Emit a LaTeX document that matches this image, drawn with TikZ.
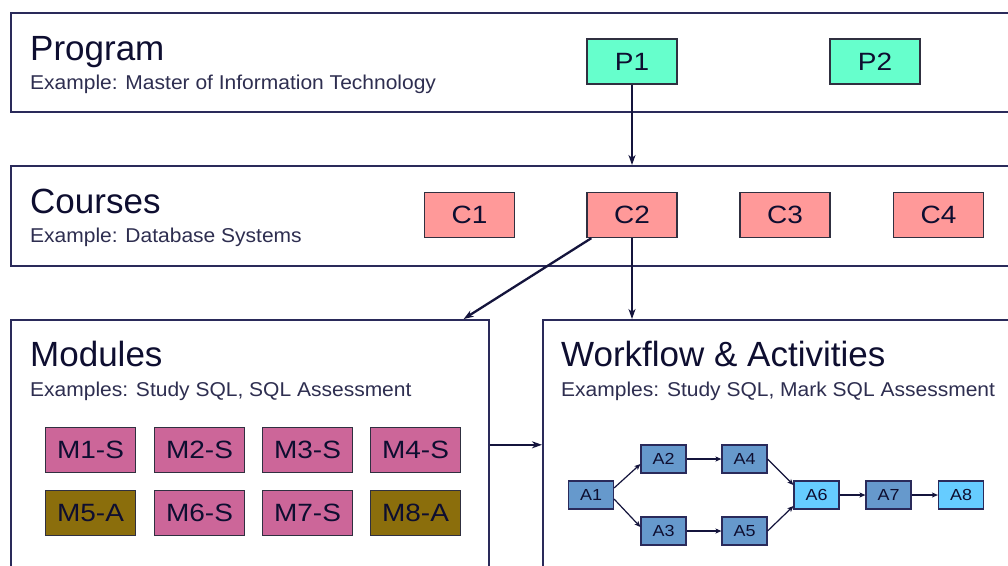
\documentclass[tikz,border=0pt]{standalone}
\usepackage{fontspec}
\setmainfont{Liberation Sans}
\newfontfamily\widesans[FakeStretch=1.05]{Liberation Sans}
\newfontfamily\labelsans[FakeStretch=1.12]{Liberation Sans}
\usetikzlibrary{arrows.meta,calc}

\definecolor{bandline}{HTML}{2A2A5A}
\definecolor{arrowcol}{HTML}{14143C}
\definecolor{txtdark}{HTML}{0E0E30}
\definecolor{txtsub}{HTML}{2E2E50}
\definecolor{pfill}{HTML}{66FFCC}
\definecolor{cfill}{HTML}{FF9999}
\definecolor{msfill}{HTML}{CC6699}
\definecolor{mafill}{HTML}{8B6E0C}
\definecolor{afill}{HTML}{6699CC}
\definecolor{alight}{HTML}{66CCFF}
\definecolor{boxline}{HTML}{303040}

\tikzset{
  band/.style={draw=bandline, line width=1.6pt, fill=white, anchor=north west, inner sep=0pt},
  bandtitle/.style={anchor=base west, inner sep=0pt, text=txtdark, font=\fontsize{35}{40}\selectfont},
  bandsub/.style={anchor=base west, inner sep=0pt, text=txtsub, font=\widesans\fontsize{20}{24}\selectfont},
  item/.style={draw=boxline, line width=1.3pt, minimum width=90pt, minimum height=45pt, inner sep=0pt,
    text=txtdark, font=\labelsans\fontsize{25}{28}\selectfont},
  pbox/.style={item, fill=pfill},
  cbox/.style={item, fill=cfill},
  msbox/.style={item, fill=msfill},
  mabox/.style={item, fill=mafill},
  abox/.style={draw=bandline, line width=1.1pt, minimum width=45pt, minimum height=28pt, inner sep=0pt,
    fill=afill, text=txtdark, font=\labelsans\fontsize{16}{18}\selectfont},
  alt/.style={fill=alight},
  bigarrow/.style={draw=arrowcol, line width=2.3pt, -{Stealth[length=10pt,width=7pt,inset=3pt]}},
  smallarrow/.style={draw=arrowcol, line width=1.2pt, -{Stealth[length=6pt,width=5pt,inset=1.5pt]}}
}

\begin{document}
\begin{tikzpicture}[x=1pt,y=-1pt]
\useasboundingbox (0,0) rectangle (1008,565);
\clip (0,0) rectangle (1008,565);
\fill[white] (0,0) rectangle (1008,565);

% the four bands
\node[band, minimum width=1010pt, minimum height=99pt] (prog) at (10,12) {};
\node[band, minimum width=1010pt, minimum height=100pt] (courses) at (10,165) {};
\node[band, minimum width=478pt, minimum height=262pt] (mods) at (10,319) {};
\node[band, minimum width=480pt, minimum height=262pt] (wf) at (542,319) {};

% band headings
\node[bandtitle] (tprog) at (30,60) {Program};
\node[bandsub] (sprog) at (30,89) {Example: Master of Information Technology};
\node[bandtitle] (tcourses) at (30,213) {Courses};
\node[bandsub] (scourses) at (30,242) {Example: Database Systems};
\node[bandtitle] (tmods) at (30,366) {Modules};
\node[bandsub] (smods) at (30,396) {Examples: Study SQL, SQL Assessment};
\node[bandtitle] (twf) at (561,366) {Workflow \& Activities};
\node[bandsub] (swf) at (561,396) {Examples: Study SQL, Mark SQL Assessment};

% programs
\node[pbox] (P1) at (632,61.5) {P1};
\node[pbox] (P2) at (875,61.5) {P2};

% courses
\node[cbox] (C1) at (469.5,215) {C1};
\node[cbox] (C2) at (632,215) {C2};
\node[cbox] (C3) at (785,215) {C3};
\node[cbox] (C4) at (938.5,215) {C4};

% modules
\node[msbox] (M1) at (90.5,450) {M1-S};
\node[msbox] (M2) at (199.5,450) {M2-S};
\node[msbox] (M3) at (307.5,450) {M3-S};
\node[msbox] (M4) at (415.5,450) {M4-S};
\node[mabox] (M5) at (90.5,513) {M5-A};
\node[msbox] (M6) at (199.5,513) {M6-S};
\node[msbox] (M7) at (307.5,513) {M7-S};
\node[mabox] (M8) at (415.5,513) {M8-A};

% activities
\node[abox] (A1) at (591,495) {A1};
\node[abox] (A2) at (663.5,459) {A2};
\node[abox] (A3) at (663.5,531) {A3};
\node[abox] (A4) at (744.5,459) {A4};
\node[abox] (A5) at (744.5,531) {A5};
\node[abox, alt] (A6) at (816.5,495) {A6};
\node[abox] (A7) at (888.5,495) {A7};
\node[abox, alt] (A8) at (961,495) {A8};

% hierarchy connectors
\draw[bigarrow] (P1.south) -- (P1.south |- courses.north);
\draw[bigarrow] ([xshift=5pt]C2.south west) -- ([xshift=-26pt]mods.north east);
\draw[bigarrow] (C2.south) -- (C2.south |- wf.north);
\draw[bigarrow] ([yshift=6pt]mods.east) -- ([yshift=6pt]wf.west);

% activity flow
\draw[smallarrow] ([yshift=7pt]A1.east) -- ([yshift=-5pt]A2.west);
\draw[smallarrow] ([yshift=-4pt]A1.east) -- ([yshift=4pt]A3.west);
\draw[smallarrow] (A2.east) -- (A4.west);
\draw[smallarrow] (A3.east) -- (A5.west);
\draw[smallarrow] (A4.east) -- ([yshift=10pt]A6.west);
\draw[smallarrow] (A5.east) -- ([yshift=-11pt]A6.west);
\draw[smallarrow] (A6.east) -- (A7.west);
\draw[smallarrow] (A7.east) -- (A8.west);
\end{tikzpicture}
\end{document}
